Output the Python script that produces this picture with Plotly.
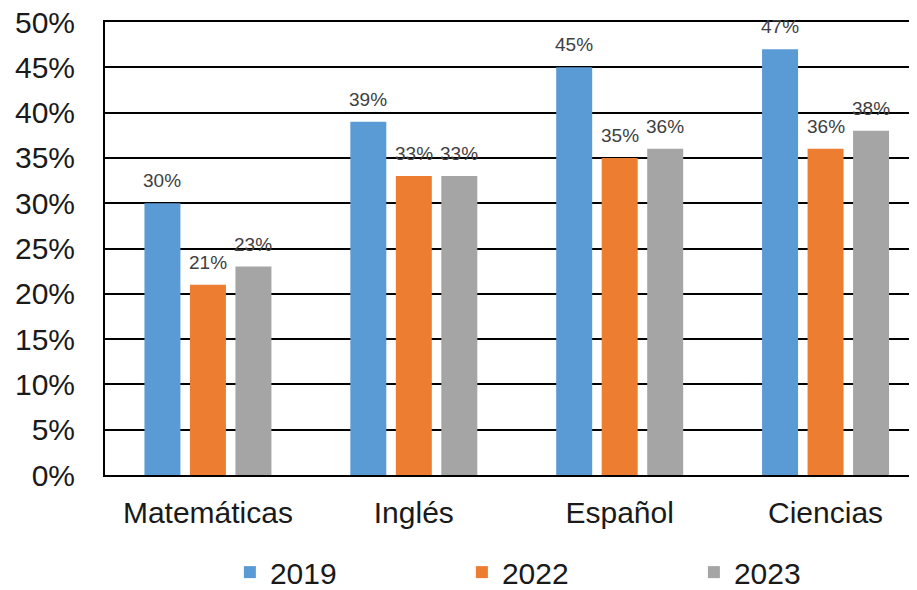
import plotly.graph_objects as go

categories = ["Matemáticas", "Inglés", "Español", "Ciencias"]
years = ["2019", "2022", "2023"]
values_2019 = [0.30, 0.39, 0.45, 0.47]
values_2022 = [0.21, 0.33, 0.35, 0.36]
values_2023 = [0.23, 0.33, 0.36, 0.38]
series = [values_2019, values_2022, values_2023]
colors = ["#5B9BD5", "#ED7D31", "#A5A5A5"]
y_ticks = [0, 0.05, 0.10, 0.15, 0.20, 0.25, 0.30, 0.35, 0.40, 0.45, 0.50]

FONT = "Liberation Sans, Arial, sans-serif"

fig = go.Figure()
for name, vals, col in zip(years, series, colors):
    fig.add_trace(go.Bar(x=categories, y=vals, name=name, marker_color=col,
                         marker_line_width=0))

slot_px = 45.5
annotations = []
for i, vals in enumerate(series):
    for c, v in zip(categories, vals):
        annotations.append(dict(x=c, y=v, xref="x", yref="y", text=f"{round(v*100)}%",
                                showarrow=False, yanchor="bottom", xanchor="center",
                                xshift=(i - 1) * slot_px, yshift=10,
                                font=dict(family=FONT, size=19, color="#404040")))

fig.update_layout(
    width=917, height=590,
    margin=dict(l=96.5, r=0, t=14, b=122.5, autoexpand=False),
    paper_bgcolor="white", plot_bgcolor="white",
    barmode="group", bargap=0.337, bargroupgap=0.209,
    font=dict(family=FONT, size=30, color="#1a1a1a"),
    showlegend=True,
    legend=dict(orientation="h", x=0.5767, xanchor="center", y=-0.157, yanchor="top",
                bgcolor="rgba(0,0,0,0)",
                font=dict(family=FONT, size=30, color="#1a1a1a"),
                entrywidth=187, itemclick=False),
    annotations=annotations,
)
fig.update_xaxes(range=[-0.5, 3.483], showgrid=False, showline=True, linecolor="black",
                 linewidth=2, mirror=True, ticks="", ticklabelstandoff=10, automargin=False,
                 ticklabeloverflow="allow",
                 tickfont=dict(family=FONT, size=30, color="#1a1a1a"))
fig.update_yaxes(range=[0, 0.5], tickvals=y_ticks, tickformat=".0%", showgrid=True,
                 gridcolor="black", gridwidth=1.6, showline=True, linecolor="black",
                 linewidth=2, zeroline=False, ticks="", ticklabelstandoff=22,
                 automargin=False, ticklabeloverflow="allow",
                 tickfont=dict(family=FONT, size=30, color="#1a1a1a"))

fig.write_html("out.html")
